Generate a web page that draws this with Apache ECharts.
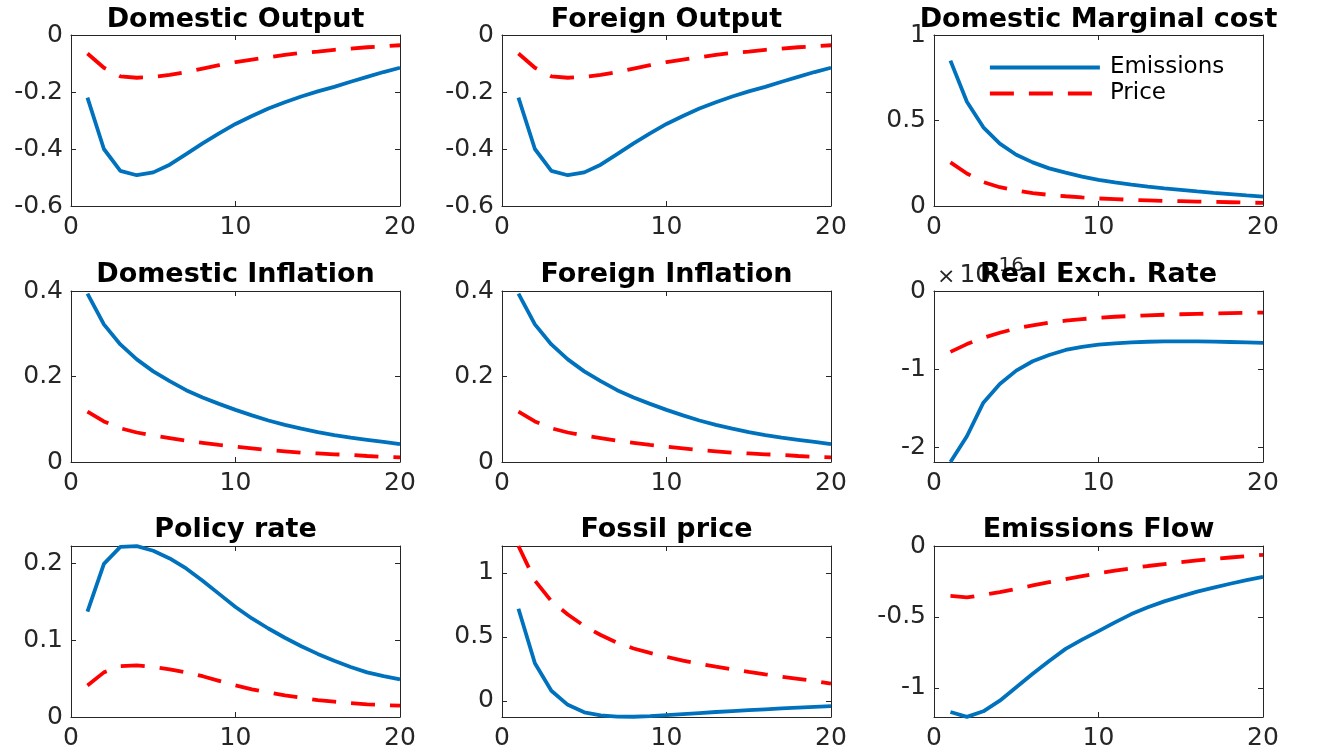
<!DOCTYPE html>
<html>
<head>
<meta charset="utf-8">
<script src="https://cdn.jsdelivr.net/npm/echarts@6/dist/echarts.min.js"></script>
<style>html,body{margin:0;padding:0;background:#fff}#c{width:1327px;height:754px}</style>
</head>
<body>
<div id="c"></div>
<script>
// ---------------- data ----------------
const periods = [1,2,3,4,5,6,7,8,9,10,11,12,13,14,15,16,17,18,19,20];
const xTicks = [0,10,20];
const seriesNames = ['Emissions','Price'];

const domOutputEmis  = [-0.22,-0.40,-0.477,-0.492,-0.482,-0.455,-0.418,-0.38,-0.345,-0.312,-0.284,-0.258,-0.236,-0.216,-0.198,-0.182,-0.164,-0.147,-0.13,-0.115];
const domOutputPrice = [-0.065,-0.115,-0.145,-0.15,-0.147,-0.14,-0.13,-0.118,-0.106,-0.095,-0.086,-0.078,-0.07,-0.063,-0.058,-0.052,-0.048,-0.043,-0.04,-0.036];
const forOutputEmis  = [-0.22,-0.40,-0.477,-0.492,-0.482,-0.455,-0.418,-0.38,-0.345,-0.312,-0.284,-0.258,-0.236,-0.216,-0.198,-0.182,-0.164,-0.147,-0.13,-0.115];
const forOutputPrice = [-0.065,-0.115,-0.145,-0.15,-0.147,-0.14,-0.13,-0.118,-0.106,-0.095,-0.086,-0.078,-0.07,-0.063,-0.058,-0.052,-0.048,-0.043,-0.04,-0.036];
const mcEmis  = [0.85,0.61,0.46,0.365,0.30,0.255,0.22,0.195,0.172,0.153,0.138,0.125,0.113,0.103,0.094,0.085,0.077,0.07,0.062,0.055];
const mcPrice = [0.255,0.19,0.14,0.11,0.09,0.075,0.065,0.057,0.05,0.044,0.04,0.036,0.033,0.03,0.028,0.026,0.024,0.022,0.02,0.018];
const domInflEmis  = [0.394,0.322,0.275,0.24,0.212,0.189,0.168,0.151,0.136,0.122,0.109,0.097,0.087,0.078,0.07,0.063,0.057,0.052,0.047,0.042];
const domInflPrice = [0.118,0.095,0.079,0.069,0.062,0.056,0.05,0.045,0.04,0.036,0.032,0.028,0.025,0.022,0.02,0.018,0.0165,0.014,0.012,0.011];
const forInflEmis  = [0.394,0.322,0.275,0.24,0.212,0.189,0.168,0.151,0.136,0.122,0.109,0.097,0.087,0.078,0.07,0.063,0.057,0.052,0.047,0.042];
const forInflPrice = [0.118,0.095,0.079,0.069,0.062,0.056,0.05,0.045,0.04,0.036,0.032,0.028,0.025,0.022,0.02,0.018,0.0165,0.014,0.012,0.011];
// real exchange rate, in units of 1e-16
const rerEmis  = [-2.19,-1.86,-1.43,-1.19,-1.02,-0.90,-0.82,-0.755,-0.715,-0.688,-0.67,-0.658,-0.65,-0.645,-0.644,-0.645,-0.648,-0.653,-0.659,-0.665];
const rerPrice = [-0.78,-0.68,-0.6,-0.535,-0.48,-0.44,-0.405,-0.38,-0.36,-0.343,-0.33,-0.32,-0.311,-0.304,-0.298,-0.293,-0.288,-0.284,-0.28,-0.277];
const policyEmis  = [0.137,0.199,0.221,0.222,0.216,0.206,0.193,0.177,0.16,0.143,0.128,0.115,0.103,0.092,0.082,0.073,0.065,0.058,0.053,0.049];
const policyPrice = [0.041,0.058,0.066,0.067,0.065,0.062,0.058,0.053,0.047,0.041,0.036,0.032,0.028,0.025,0.022,0.02,0.018,0.0165,0.0155,0.0147];
const fossilEmis  = [0.72,0.295,0.08,-0.03,-0.088,-0.112,-0.122,-0.123,-0.118,-0.11,-0.102,-0.094,-0.086,-0.079,-0.072,-0.065,-0.058,-0.052,-0.046,-0.04];
const fossilPrice = [1.21,0.94,0.78,0.675,0.585,0.515,0.455,0.41,0.375,0.345,0.315,0.29,0.268,0.247,0.227,0.208,0.19,0.173,0.155,0.135];
const flowEmis  = [-1.17,-1.204,-1.165,-1.09,-0.995,-0.9,-0.81,-0.725,-0.66,-0.6,-0.538,-0.48,-0.432,-0.39,-0.355,-0.322,-0.293,-0.266,-0.24,-0.218];
const flowPrice = [-0.352,-0.362,-0.345,-0.325,-0.302,-0.278,-0.255,-0.233,-0.212,-0.192,-0.174,-0.157,-0.141,-0.127,-0.114,-0.102,-0.091,-0.081,-0.071,-0.062];

const panels = [
  {title:'Domestic Output',        emis:domOutputEmis, price:domOutputPrice, yMin:-0.6,  yMax:0,      yTicks:[-0.6,-0.4,-0.2,0]},
  {title:'Foreign Output',         emis:forOutputEmis, price:forOutputPrice, yMin:-0.6,  yMax:0,      yTicks:[-0.6,-0.4,-0.2,0]},
  {title:'Domestic Marginal cost', emis:mcEmis,        price:mcPrice,        yMin:0,     yMax:1,      yTicks:[0,0.5,1]},
  {title:'Domestic Inflation',     emis:domInflEmis,   price:domInflPrice,   yMin:0,     yMax:0.4,    yTicks:[0,0.2,0.4]},
  {title:'Foreign Inflation',      emis:forInflEmis,   price:forInflPrice,   yMin:0,     yMax:0.4,    yTicks:[0,0.2,0.4]},
  {title:'Real Exch. Rate',        emis:rerEmis,       price:rerPrice,       yMin:-2.19, yMax:0,      yTicks:[-2,-1,0]},
  {title:'Policy rate',            emis:policyEmis,    price:policyPrice,    yMin:0,     yMax:0.2222, yTicks:[0,0.1,0.2]},
  {title:'Fossil price',           emis:fossilEmis,    price:fossilPrice,    yMin:-0.125,yMax:1.21,   yTicks:[0,0.5,1]},
  {title:'Emissions Flow',         emis:flowEmis,      price:flowPrice,      yMin:-1.205,yMax:0,      yTicks:[-1,-0.5,0]}
];

// ---------------- layout / style ----------------
const colLefts = [71, 502, 934];
const rowTops = [35, 291, 546];
const gridW = 329, gridH = 171;
const titleTops = [6, 261, 516];
const AX = '#262626';
const FONT = '"DejaVu Sans", "Liberation Sans", sans-serif';
const BLUE = '#0072BD', RED = '#FF0000';
const LW = 3.8;

const grids = [], xAxes = [], yAxes = [], series = [], titles = [];
panels.forEach((p, i) => {
  const r = Math.floor(i / 3), c = i % 3;
  grids.push({left: colLefts[c], top: rowTops[r], width: gridW, height: gridH, containLabel: false});
  titles.push({
    text: p.title, left: colLefts[c] + gridW / 2, top: titleTops[r], textAlign: 'center', padding: 0,
    textStyle: {fontFamily: FONT, fontWeight: 'bold', fontSize: 27, color: '#000'}
  });
  const tickStyle = {show: true, inside: true, length: 5, lineStyle: {color: AX, width: 1}};
  const lineStyle = {show: true, onZero: false, lineStyle: {color: AX, width: 1}};
  xAxes.push({
    gridIndex: i, type: 'value', position: 'bottom', min: 0, max: 20, interval: 10,
    axisLine: lineStyle, axisTick: tickStyle, splitLine: {show: false},
    axisLabel: {fontFamily: FONT, fontSize: 25, color: AX, margin: 9, customValues: xTicks},
  });
  xAxes.push({
    gridIndex: i, type: 'value', position: 'top', min: 0, max: 20, interval: 10,
    axisLine: lineStyle, axisTick: tickStyle, splitLine: {show: false}, axisLabel: {show: false}
  });
  yAxes.push({
    gridIndex: i, type: 'value', position: 'left', min: p.yMin, max: p.yMax,
    axisLine: lineStyle, axisTick: Object.assign({customValues: p.yTicks}, tickStyle), splitLine: {show: false},
    axisLabel: {fontFamily: FONT, fontSize: 25, color: AX, margin: 8, customValues: p.yTicks, formatter: v => String(v)}
  });
  yAxes.push({
    gridIndex: i, type: 'value', position: 'right', min: p.yMin, max: p.yMax,
    axisLine: lineStyle, axisTick: Object.assign({customValues: p.yTicks}, tickStyle), splitLine: {show: false},
    axisLabel: {show: false, customValues: p.yTicks}
  });
  series.push({
    name: seriesNames[0], type: 'line', xAxisIndex: 2 * i, yAxisIndex: 2 * i,
    data: periods.map((t, k) => [t, p.emis[k]]), showSymbol: false, symbol: 'none', silent: true,
    lineStyle: {color: BLUE, width: LW}, itemStyle: {color: BLUE}, animation: false, clip: true, z: 3
  });
  series.push({
    name: seriesNames[1], type: 'line', xAxisIndex: 2 * i, yAxisIndex: 2 * i,
    data: periods.map((t, k) => [t, p.price[k]]), showSymbol: false, symbol: 'none', silent: true,
    lineStyle: {color: RED, width: LW, type: [24, 15]}, itemStyle: {color: RED}, animation: false, clip: true, z: 2
  });
});

const chart = echarts.init(document.getElementById('c'), null, {renderer: 'canvas'});
chart.setOption({
  backgroundColor: '#fff',
  animation: false,
  title: titles,
  grid: grids,
  xAxis: xAxes,
  yAxis: yAxes,
  series: series,
  legend: {
    data: seriesNames, orient: 'vertical', left: 988, top: 56, itemWidth: 110, itemHeight: 14, itemGap: 3,
    padding: 0,
    itemStyle: {opacity: 0},
    lineStyle: {width: LW},
    textStyle: {fontFamily: FONT, fontSize: 23, color: '#000', lineHeight: 23, padding: [0, 0, 0, 5]}
  },
  graphic: [{
    type: 'text', left: 937, top: 256, silent: true,
    style: {
      text: '{a|×}{c|10}{b|-16}', fill: AX,
      rich: {
        a: {fontFamily: FONT, fontSize: 22, fill: AX, verticalAlign: 'bottom', lineHeight: 32, padding: [0, 4, 0, 0]},
        c: {fontFamily: FONT, fontSize: 25, fill: AX, verticalAlign: 'bottom', lineHeight: 32},
        b: {fontFamily: FONT, fontSize: 20, fill: AX, verticalAlign: 'top', lineHeight: 32}
      }
    }
  }]
});
</script>
</body>
</html>
